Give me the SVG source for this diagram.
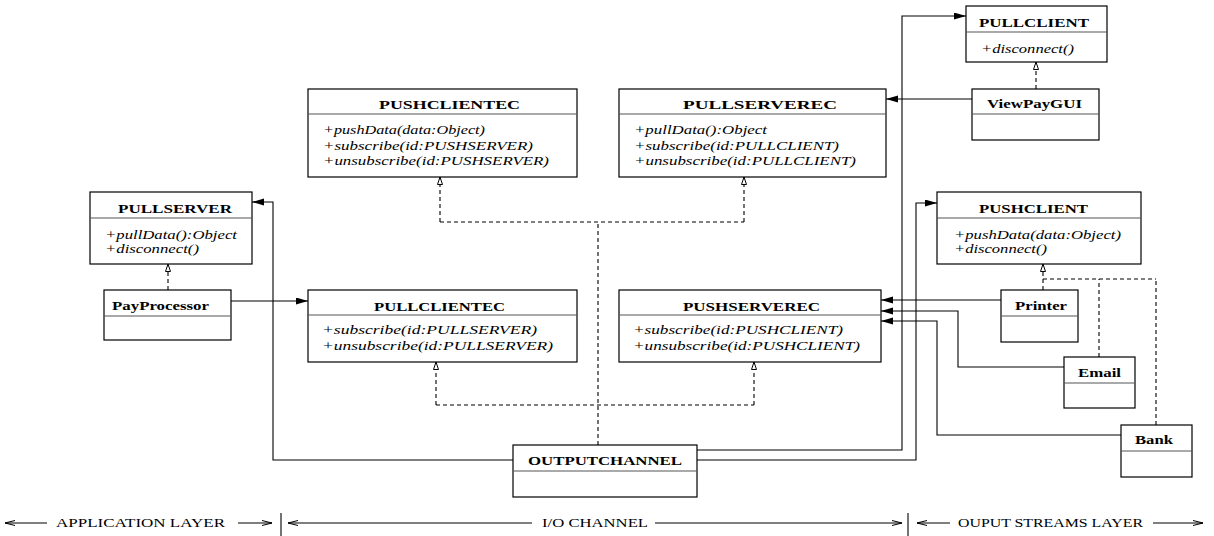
<svg xmlns="http://www.w3.org/2000/svg" width="1214" height="536" viewBox="0 0 1214 536">
<style>
.box{fill:#fff;stroke:#000;stroke-width:1.2}
.div{stroke:#555;stroke-width:1.2}
.t{font-family:"Liberation Serif","Times New Roman",serif;font-size:13px;font-weight:bold;fill:#000}
.m{font-family:"Liberation Serif","Times New Roman",serif;font-size:13px;font-style:italic;fill:#000}
.lab{font-family:"Liberation Serif","Times New Roman",serif;font-size:13px;fill:#000}
.c{fill:none;stroke:#000;stroke-width:1.1}
.d{fill:none;stroke:#000;stroke-width:1.1;stroke-dasharray:4 3}
.fa{marker-end:url(#fill)}
.ha{marker-end:url(#hollow)}
.oa{marker-end:url(#open)}
</style>
<defs>
<marker id="fill" markerUnits="userSpaceOnUse" markerWidth="13" markerHeight="8" refX="12" refY="3.5" orient="auto"><path d="M0,0 L12,3.5 L0,7 z" fill="#000"/></marker>
<marker id="hollow" markerUnits="userSpaceOnUse" markerWidth="10" markerHeight="8" refX="8" refY="3" orient="auto"><path d="M0.5,0.5 L8,3 L0.5,5.5 z" fill="#fff" stroke="#000" stroke-width="1"/></marker>
<marker id="open" markerUnits="userSpaceOnUse" markerWidth="12" markerHeight="7" refX="10" refY="3" orient="auto"><path d="M0,0.5 L10,3 L0,5.5" fill="none" stroke="#000" stroke-width="1"/></marker>
</defs>

<g id="connectors">
<path class="c fa" d="M513,460 H273 V202 H252"/>
<path class="c fa" d="M231,301 H308"/>
<path class="d ha" d="M168,290 V264"/>
<path class="d" d="M598,445 V222"/>
<path class="d" d="M440,222 H744"/>
<path class="d ha" d="M440,222 V177"/>
<path class="d ha" d="M744,222 V177"/>
<path class="d" d="M436,405 H754"/>
<path class="d ha" d="M436,405 V362"/>
<path class="d ha" d="M754,405 V362"/>
<path class="c fa" d="M697,450 H902 V16 H966"/>
<path class="c fa" d="M697,460 H916 V203 H937"/>
<path class="c fa" d="M972,99 H886"/>
<path class="d ha" d="M1036,89 V62"/>
<path class="c fa" d="M1001,300 H881"/>
<path class="c fa" d="M1064,367 H958 V311 H881"/>
<path class="c fa" d="M1121,435 H937 V321 H881"/>
<path class="d ha" d="M1043,290 V264"/>
<path class="d" d="M1043,279 H1156"/>
<path class="d" d="M1099,357 V279"/>
<path class="d" d="M1156,425 V279"/>
</g>

<g id="PULLSERVER">
<rect class="box" x="90" y="192" width="162" height="72"/>
<line class="div" x1="90" y1="218" x2="252" y2="218"/>
<text class="t" x="118" y="213" textLength="114" lengthAdjust="spacingAndGlyphs">PULLSERVER</text>
<text class="m" x="105" y="239" textLength="132" lengthAdjust="spacingAndGlyphs">+pullData():Object</text>
<text class="m" x="105" y="253" textLength="94" lengthAdjust="spacingAndGlyphs">+disconnect()</text>
</g>

<g id="PayProcessor">
<rect class="box" x="104" y="290" width="127" height="50"/>
<line class="div" x1="104" y1="316" x2="231" y2="316"/>
<text class="t" x="112" y="310" textLength="97" lengthAdjust="spacingAndGlyphs">PayProcessor</text>
</g>

<g id="PUSHCLIENTEC">
<rect class="box" x="308" y="89" width="269" height="88"/>
<line class="div" x1="308" y1="114" x2="577" y2="114"/>
<text class="t" x="379" y="109" textLength="141" lengthAdjust="spacingAndGlyphs">PUSHCLIENTEC</text>
<text class="m" x="323" y="134" textLength="162" lengthAdjust="spacingAndGlyphs">+pushData(data:Object)</text>
<text class="m" x="323" y="150" textLength="210" lengthAdjust="spacingAndGlyphs">+subscribe(id:PUSHSERVER)</text>
<text class="m" x="323" y="165" textLength="226" lengthAdjust="spacingAndGlyphs">+unsubscribe(id:PUSHSERVER)</text>
</g>

<g id="PULLSERVEREC">
<rect class="box" x="619" y="89" width="267" height="88"/>
<line class="div" x1="619" y1="114" x2="886" y2="114"/>
<text class="t" x="683" y="109" textLength="154" lengthAdjust="spacingAndGlyphs">PULLSERVEREC</text>
<text class="m" x="634" y="134" textLength="133" lengthAdjust="spacingAndGlyphs">+pullData():Object</text>
<text class="m" x="634" y="150" textLength="205" lengthAdjust="spacingAndGlyphs">+subscribe(id:PULLCLIENT)</text>
<text class="m" x="634" y="165" textLength="222" lengthAdjust="spacingAndGlyphs">+unsubscribe(id:PULLCLIENT)</text>
</g>

<g id="PULLCLIENT">
<rect class="box" x="966" y="6" width="141" height="56"/>
<line class="div" x1="966" y1="32" x2="1107" y2="32"/>
<text class="t" x="979" y="27" textLength="110" lengthAdjust="spacingAndGlyphs">PULLCLIENT</text>
<text class="m" x="981" y="53" textLength="93" lengthAdjust="spacingAndGlyphs">+disconnect()</text>
</g>

<g id="ViewPayGUI">
<rect class="box" x="972" y="89" width="127" height="51"/>
<line class="div" x1="972" y1="114" x2="1099" y2="114"/>
<text class="t" x="987" y="108" textLength="95" lengthAdjust="spacingAndGlyphs">ViewPayGUI</text>
</g>

<g id="PUSHCLIENT">
<rect class="box" x="937" y="192" width="204" height="72"/>
<line class="div" x1="937" y1="218" x2="1141" y2="218"/>
<text class="t" x="979" y="213" textLength="109" lengthAdjust="spacingAndGlyphs">PUSHCLIENT</text>
<text class="m" x="954" y="239" textLength="167" lengthAdjust="spacingAndGlyphs">+pushData(data:Object)</text>
<text class="m" x="954" y="253" textLength="93" lengthAdjust="spacingAndGlyphs">+disconnect()</text>
</g>

<g id="PULLCLIENTEC">
<rect class="box" x="308" y="290" width="269" height="72"/>
<line class="div" x1="308" y1="315" x2="577" y2="315"/>
<text class="t" x="374" y="311" textLength="131" lengthAdjust="spacingAndGlyphs">PULLCLIENTEC</text>
<text class="m" x="322" y="334" textLength="215" lengthAdjust="spacingAndGlyphs">+subscribe(id:PULLSERVER)</text>
<text class="m" x="322" y="350" textLength="231" lengthAdjust="spacingAndGlyphs">+unsubscribe(id:PULLSERVER)</text>
</g>

<g id="PUSHSERVEREC">
<rect class="box" x="619" y="290" width="262" height="72"/>
<line class="div" x1="619" y1="315" x2="881" y2="315"/>
<text class="t" x="683" y="311" textLength="137" lengthAdjust="spacingAndGlyphs">PUSHSERVEREC</text>
<text class="m" x="633" y="334" textLength="210" lengthAdjust="spacingAndGlyphs">+subscribe(id:PUSHCLIENT)</text>
<text class="m" x="633" y="350" textLength="227" lengthAdjust="spacingAndGlyphs">+unsubscribe(id:PUSHCLIENT)</text>
</g>

<g id="Printer">
<rect class="box" x="1001" y="290" width="77" height="52"/>
<line class="div" x1="1001" y1="316" x2="1078" y2="316"/>
<text class="t" x="1015" y="310" textLength="52" lengthAdjust="spacingAndGlyphs">Printer</text>
</g>

<g id="Email">
<rect class="box" x="1064" y="357" width="71" height="51"/>
<line class="div" x1="1064" y1="383" x2="1135" y2="383"/>
<text class="t" x="1078" y="377" textLength="43" lengthAdjust="spacingAndGlyphs">Email</text>
</g>

<g id="Bank">
<rect class="box" x="1121" y="425" width="71" height="52"/>
<line class="div" x1="1121" y1="451" x2="1192" y2="451"/>
<text class="t" x="1135" y="444" textLength="38" lengthAdjust="spacingAndGlyphs">Bank</text>
</g>

<g id="OUTPUTCHANNEL">
<rect class="box" x="513" y="445" width="184" height="52"/>
<line class="div" x1="513" y1="471" x2="697" y2="471"/>
<text class="t" x="528" y="465" textLength="154" lengthAdjust="spacingAndGlyphs">OUTPUTCHANNEL</text>
</g>

<g id="layers">
<path class="c oa" d="M47,523 H5"/>
<text class="lab" x="56" y="527" textLength="169" lengthAdjust="spacingAndGlyphs">APPLICATION LAYER</text>
<path class="c oa" d="M238,523 H272"/>
<line class="c" x1="281" y1="513" x2="281" y2="536"/>
<path class="c oa" d="M532,523 H288"/>
<text class="lab" x="542" y="527" textLength="106" lengthAdjust="spacingAndGlyphs">I/O CHANNEL</text>
<path class="c oa" d="M655,523 H902"/>
<line class="c" x1="908" y1="513" x2="908" y2="536"/>
<path class="c oa" d="M950,523 H917"/>
<text class="lab" x="958" y="527" textLength="185" lengthAdjust="spacingAndGlyphs">OUPUT STREAMS LAYER</text>
<path class="c oa" d="M1153,523 H1203"/>
</g>
</svg>
